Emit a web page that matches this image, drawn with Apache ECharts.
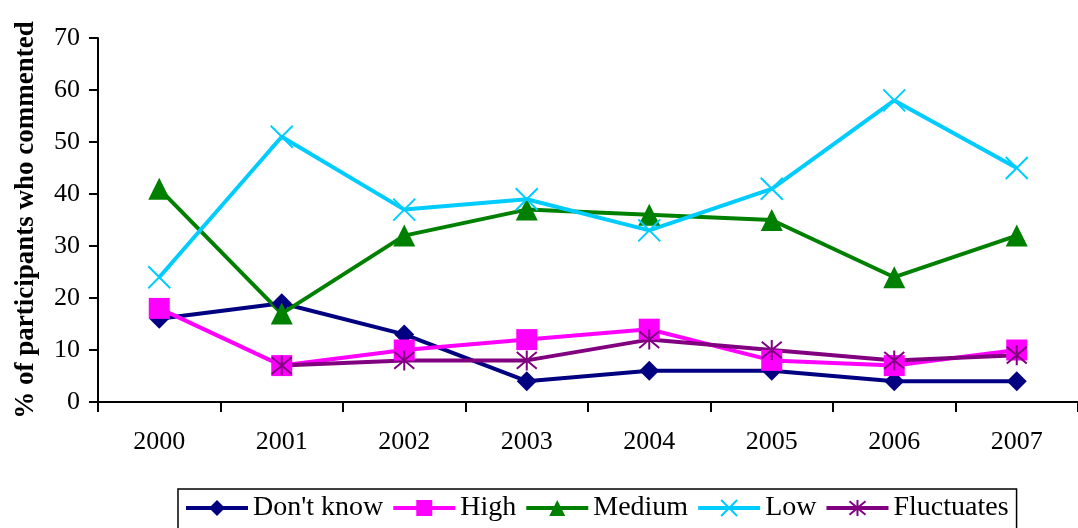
<!DOCTYPE html>
<html>
<head>
<meta charset="utf-8">
<script src="https://cdn.jsdelivr.net/npm/echarts@6/dist/echarts.min.js"></script>
<style>
  html, body { margin: 0; padding: 0; background: #fff; }
  #chart { width: 1078px; height: 528px; }
</style>
</head>
<body>
<div id="chart"></div>
<script>
// Years on the category axis
const years = ['2000', '2001', '2002', '2003', '2004', '2005', '2006', '2007'];

// Share of participants (%) per response; '-' = no value that year
const dontKnow   = [16, 19, 13, 4, 6, 6, 4, 4];
const high       = [18, 7, 10, 12, 14, 8, 7, 10];
const medium     = [41, 17, 32, 37, 36, 35, 24, 32];
const low        = [24, 51, 37, 39, 33, 41, 58, 45];
const fluctuates = ['-', 7, 8, 8, 12, 10, 8, 9];

const yTicks = [0, 10, 20, 30, 40, 50, 60, 70];

const FONT = '"Liberation Serif", "DejaVu Serif", serif';

const crossPath = 'path://M0,0L10,10M10,0L0,10';
const starPath = 'path://M0,0L10,10M10,0L0,10M5,-1L5,11';

function lineSeries(name, data, color, symbol, size, strokeOnly) {
  return {
    name: name,
    type: 'line',
    data: data,
    symbol: symbol,
    symbolSize: size,
    lineStyle: { color: color, width: 4 },
    itemStyle: strokeOnly
      ? { color: 'none', borderColor: color, borderWidth: 2 }
      : { color: color, borderWidth: 0 },
    emphasis: { disabled: true },
    animation: false
  };
}

const chart = echarts.init(document.getElementById('chart'), null, { renderer: 'canvas' });

chart.setOption({
  backgroundColor: '#fff',
  textStyle: { fontFamily: FONT },
  grid: { left: 98, right: -10, top: 38, bottom: 126 },
  legend: {
    top: 489,
    left: 178,
    itemWidth: 62,
    itemHeight: 20,
    itemGap: 8,
    padding: [5, 8, 12, 6],
    borderColor: '#000',
    borderWidth: 1.5,
    lineStyle: { width: 4 },
    textStyle: { fontFamily: FONT, fontSize: 28, color: '#000' },
    data: ["Don't know", 'High', 'Medium', 'Low', 'Fluctuates']
  },
  xAxis: {
    type: 'category',
    data: years,
    boundaryGap: true,
    axisLine: { lineStyle: { color: '#000', width: 2 } },
    axisTick: { show: true, length: 10, lineStyle: { color: '#000', width: 2 } },
    axisLabel: { color: '#000', fontFamily: FONT, fontSize: 26, margin: 27 },
    splitLine: { show: false }
  },
  yAxis: {
    type: 'value',
    min: yTicks[0],
    max: yTicks[yTicks.length - 1],
    interval: 10,
    name: '% of participants who commented',
    nameLocation: 'middle',
    nameGap: 58,
    nameTextStyle: { color: '#000', fontFamily: FONT, fontSize: 27, fontWeight: 'bold' },
    axisLine: { show: true, lineStyle: { color: '#000', width: 2 } },
    axisTick: { show: true, length: 9, lineStyle: { color: '#000', width: 2 } },
    axisLabel: { color: '#000', fontFamily: FONT, fontSize: 26, margin: 18 },
    splitLine: { show: false }
  },
  series: [
    lineSeries("Don't know", dontKnow, '#000080', 'diamond', 20, false),
    lineSeries('High', high, '#FF00FF', 'rect', 21, false),
    lineSeries('Medium', medium, '#008000', 'triangle', 22, false),
    lineSeries('Low', low, '#00CCFF', crossPath, 22, true),
    lineSeries('Fluctuates', fluctuates, '#800080', starPath, 20, true)
  ]
});
</script>
</body>
</html>
